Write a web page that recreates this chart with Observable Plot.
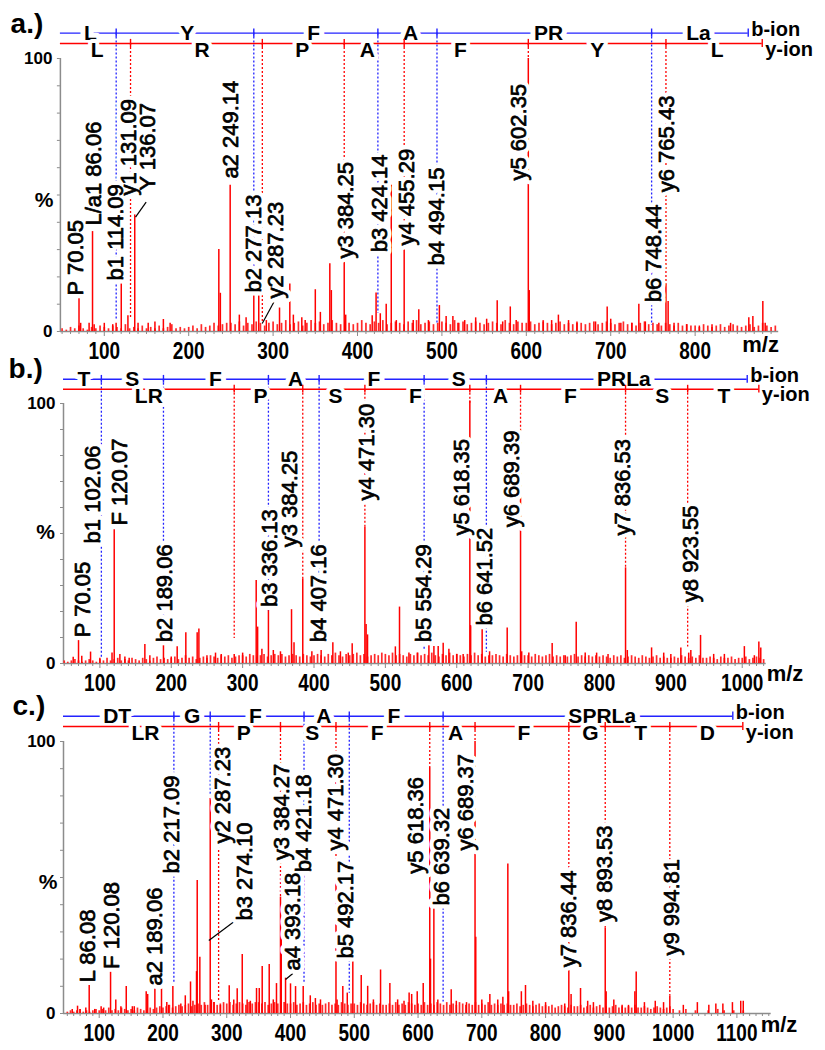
<!DOCTYPE html>
<html><head><meta charset="utf-8">
<script src="https://cdn.jsdelivr.net/npm/d3@7"></script>
<script src="https://cdn.jsdelivr.net/npm/@observablehq/plot@0.6"></script>
<style>
body{margin:0;background:#fff;}
#wrap{position:relative;width:825px;height:1050px;overflow:hidden;}
#wrap svg{position:absolute;left:0;}
</style></head><body><div id="wrap"></div>
<script>
// ---------------- Panel a: LYFAPRLa ----------------
const aPeaks = [[70.05,15.3],[72,3],[82,3],[86.06,36.6],[88,2.5],[100,3],[110,2.5],[114,3],[120.1,18.1],[128,5.8],[136.07,42.7],[140,3],[152,3],[160,3.5],[170,4.4],[178,3],[235.7,30],[237.5,14],[249.14,53.6],[260,6],[268,5],[277.13,14.5],[283,18.1],[292,4],[307.6,8.6],[319.8,17.4],[324,6],[334,5],[338,4],[350,15.3],[356,7],[367.2,24.8],[369,15],[384.25,29.6],[386,6],[417.4,5.8],[422,14.1],[427,6.5],[434,10],[440,53.6],[446,4],[455.29,29.9],[466,4],[472.6,8],[484,4],[497,9.5],[505,5.5],[513,5.5],[519,3],[527,4],[540,5],[553,4.5],[565.5,11.3],[572,3.5],[581,9],[588,4],[602.35,100],[603.5,15],[620,3.5],[630,4],[638,6],[650,4],[660,3],[682,3.5],[695.8,9],[700,4.5],[712,3],[725,3],[733.3,10],[741,3.5],[757,3],[765.43,17],[768,11],[775,3],[790,2.5],[805,2],[820,2.5],[842,3],[863.6,5],[868.4,5.5],[880.2,11],[883,3]];
const aGrassStart = 50, aGrassStep = 5;
const aGrass = [1,0.5,1.5,1,2,1,0.5,1.5,1,2, 1.5,1,2,1.5,1,2.5,1,1.5,1,2, 1,1.5,1,2,1,1.5,2.5,1,1.5,1, 1.5,2,1,2.5,1.5,2,3,2,2.5,3, 3,2.5,3.5,2,3,2.5,3.5,3,2,3, 3.5,2.5,3,4,2.5,3,3.5,2,3,4, 3,3.5,2.5,3,4,3,2.5,3.5,3,2.5, 3,4,3,2.5,3.5,3,4,2.5,3,3.5, 3,2.5,3.5,3,4,2.5,3,3.5,2.5,3, 3.5,3,2.5,4,3,3.5,2.5,3,3.5,3, 2.5,3,3.5,3,2.5,4,3,2.5,3.5,3, 3,3.5,2.5,3,4,3,2.5,3,3.5,2.5, 3,2.5,3.5,3,2.5,3,3.5,2.5,3,3.5, 3,2.5,3,3.5,2.5,3,2,3,3.5,2.5, 3,2.5,2,3,2.5,2,3,2,2.5,2, 2,1.5,2.5,2,1.5,2,2.5,1.5,2,2.5, 2,1.5,2,2.5,1.5,2,3,2,1.5,2];
const aIonMz = [114.09,277.13,424.14,494.15,748.44,131.09,287.23,384.25,455.29,602.35,765.43];
const aIonType = ["b","b","b","b","b","y","y","y","y","y","y"];
const aIonEnd = [4,14.3,6.6,2.9,2.2,5.1,2.9,29.3,29.7,100,16.8];
const aSeqEnd = [862.9,879.5];
const aBLetters = ["L","Y","F","A","PR","La"];
const aBLetterMz = [83.6,198.2,347.9,462.8,626.3,804];
const aYLetters = ["L","R","P","A","F","Y","L"];
const aYLetterMz = [91.6,216,334.5,411.5,522,684,826.2];
const aLabels = ["P 70.05","L/a1 86.06","b1 114.09","y1 131.09","Y 136.07","a2 249.14","b2 277.13","y2 287.23","y3 384.25","b3 424.14","y4 455.29","b4 494.15","y5 602.35","b6 748.44","y6 765.43"];
const aLabelMz = [65.9,87.2,113.3,128.7,151.2,250.4,276.8,302.8,386.6,426,458.9,493.6,591.1,751.1,767];
const aLabelInt = [13.2,38.8,18.7,49.8,51.6,56,14.3,12.1,26.7,29,31.5,24.2,55.3,10.7,51];
const aLeaders = [[149.6,47.4,137,41.9],[300.8,10.7,287.1,2.9]];

// ---------------- Panel b: TSFAFSPRLa ----------------
const bPeaks = [[62.6,2.4],[70.05,8.8],[74.6,2.8],[86.9,4.4],[100,2],[117,4],[120.07,51.4],[128,3.5],[135,2.5],[141,2],[163,7.3],[170,3],[189.06,7.7],[200,2.5],[208.3,6.4],[220.4,11.8],[236.3,11.8],[238.7,13.3],[250,3],[262,4],[270,3.5],[288.2,3.5],[300,4],[319,31.9],[321,14],[327,5.5],[336.13,20.4],[343,5],[353,4.5],[368.5,20.7],[372,8],[384.25,32.6],[397,4.5],[410,5],[426.4,8],[437,4.5],[448,4],[453.5,7.6],[471.3,52.4],[473,15],[475,11],[514,6.4],[519.8,21.7],[533,4],[545,4],[561,7.8],[568,6.5],[574,6.5],[581,7.8],[589,5.5],[600,3.5],[609,3.5],[618.35,101],[619.5,14.6],[635.6,13],[646,4.5],[670.7,13.7],[689.39,85],[691,4.5],[701,4],[733.7,7.7],[752,3],[767.4,15.9],[780,4],[796,4],[812,3.5],[836.53,36.8],[839,5],[873,6],[890,4],[900,3.5],[914,6],[925,4],[928,5],[941.6,10.8],[960,3.5],[975,3.5],[1003,6.5],[1017,3],[1023.3,8.3],[1026,6]];
const bGrassStart = 50, bGrassStep = 5;
const bGrass = [1,0.5,1,1.5,1,0.5,1,1.5,1,0.5, 1.5,1,2,1,1.5,2,1,1.5,1,2, 1.5,1,2,1.5,1,2,2.5,1.5,2,1.5, 2,2.5,1.5,2,3,2,2.5,1.5,2,2.5, 2,3,2.5,2,3,2.5,3,2,2.5,3, 3,2.5,3.5,3,2.5,3,3.5,2.5,3,3.5, 3,3.5,2.5,3,3.5,3,2.5,3.5,3,2.5, 3,3.5,3,2.5,3.5,3,4,3,2.5,3.5, 3,3.5,4,3,3.5,2.5,3,3.5,3,4, 3.5,3,4,3,3.5,3,2.5,3.5,3,4, 3,3.5,3,4,3,2.5,3.5,3,4,3, 3.5,3,2.5,3.5,3,4,3,3.5,2.5,3, 3,3.5,3,2.5,3.5,3,2.5,3,3.5,3, 3,2.5,3.5,3,2.5,3,3.5,2.5,3,2.5, 3,2.5,3,3.5,2.5,3,2.5,3,2.5,3, 2.5,3,2.5,2,3,2.5,3,2,2.5,3, 2.5,2,3,2.5,2,2.5,3,2,2.5,2, 2,2.5,2,3,2.5,2,2.5,2,3,2, 2,2.5,2,1.5,2.5,2,2,2.5,1.5,2, 2,2.5,1.5,2,2.5,2,1.5];
const bIonMz = [102.06,189.06,336.13,407.16,554.29,641.52,288.2,384.25,471.30,618.35,689.39,836.53,923.55];
const bIonType = ["b","b","b","b","b","b","y","y","y","y","y","y","y"];
const bIonEnd = [2.4,7.7,20,6.9,5,4.3,9.6,32.6,52.4,100,85,36.8,6.3];
const bSeqEnd = [1007,1023.3];
const bBLetters = ["T","S","F","A","F","S","PRLa"];
const bBLetterMz = [77.5,145.3,262,374.1,483.8,602.9,834.1];
const bYLetters = ["LR","P","S","F","A","F","S","T"];
const bYLetterMz = [168.6,325.1,430.1,542.2,661.3,759.4,887.9,974.2];
const bLabels = ["P 70.05","b1 102.06","F 120.07","b2 189.06","b3 336.13","y3 384.25","b4 407.16","y4 471.30","b5 554.29","y5 618.35","b6 641.52","y6 689.39","y7 836.53","y8 923.55"];
const bLabelMz = [76.4,90.4,127.5,190.6,337.7,365.7,406.8,474.6,553.9,607.7,638.9,676.8,833,927.6];
const bLabelInt = [10.1,46.2,53.1,8.2,21.7,44.7,8.2,62.7,8.2,49.2,14.6,52.4,49.2,23.6];
const bLeaders = [];

// ---------------- Panel c: DTGFAFSPRLa ----------------
const cPeaks = [[57.7,1.5],[66,2.7],[70,1.5],[79,2],[84.3,11.2],[93,1.5],[103,2.5],[107,2],[117.8,16],[126,5],[134,2.5],[142.4,9.9],[152,2.5],[155,2.5],[173.7,8],[176,7],[187.3,9.1],[197.7,9.1],[206,4],[209,3],[215.5,9.9],[228,3.5],[235,6.5],[243.2,11.6],[247,4.5],[252.6,15.4],[253.7,48.9],[257.8,20.7],[266,3],[274.1,79],[276,5],[280,4],[290,3],[303.9,10.2],[311,5],[316.4,9.1],[324.3,21.7],[332,5],[337,4.5],[346.7,9.2],[351,9.2],[355.6,17.3],[366.6,18],[373,5],[378,11],[384.27,42.8],[385.5,28],[392.2,13],[400,10.9],[407.9,9.9],[419.9,9.9],[431,6.5],[439,5.5],[447,5],[471.3,53.2],[473,5],[482,9.9],[489,7.5],[497.7,20.1],[510.9,14],[521,10],[530,5],[541.2,16],[555.8,11],[568,5],[578,4.5],[586,7.5],[590,7],[598.7,8],[608.1,11],[618.36,90.4],[619.5,20],[624.8,38.5],[631,5],[652,8.7],[660,4.5],[676,4],[689.37,100],[690.5,28],[700,5],[712.6,7],[725,5],[733,6],[740.8,55],[742,8],[762,8],[768.5,10.3],[780,4.5],[800,4],[830,3.5],[836.44,15.6],[840,7],[854.8,9.2],[866,4.5],[875,4],[893.53,31.4],[895,8],[907,5],[920,3],[930,3],[940,8],[942.1,15.3],[955,4],[972,4.5],[985,4],[994.81,6.4],[1016,3],[1038,4],[1056,3],[1067,3.5],[1078,3.5],[1093,4],[1106,4.5],[1110,4.5]];
const cGrassStart = 50, cGrassStep = 5;
const cGrass = [0.5,1,0.5,1,1.5,0.5,1,0.5,1,1.5, 1,1.5,1,2,1,1.5,1,2,1.5,1, 1.5,1,2,1.5,1,1.5,2,1.5,2,2.5, 2,2.5,3,2,2.5,3,2.5,3,3.5,2.5, 3,3.5,3,4,3,3.5,4,3,3.5,4, 3.5,4,3,3.5,4,3.5,3,4,3.5,4, 4,3.5,4,3,3.5,4,3.5,3,4,3.5, 3.5,4,3,3.5,4,3,3.5,4,3,3.5, 3,3.5,4,3,3.5,3,4,3.5,3,3.5, 3.5,3,4,3.5,3,3.5,4,3,3.5,3, 3,3.5,3,4,3,3.5,3,4,3.5,3, 3.5,3,4,3,3.5,3,4,3.5,3,4, 3,3.5,3,4,3.5,3,3.5,3,4,3, 3.5,3,4,3,3.5,3,3.5,3,3.5,3, 3,3.5,2.5,3,3.5,3,2.5,3,3.5,2.5, 3,2.5,3,2,2.5,3,2.5,2,3,2.5, 2.5,3,2,2.5,3,2,2.5,3,2,2.5, 2,2.5,3,2,2.5,2,2.5,2,3,2, 2,2.5,2,1.5,2,2.5,2,1.5,2,2.5, 1.5,0,1,0,1.5,0,0,1,0,0, 0,1,0,0,1.5,0,1,0,0,1, 0,0,1,0,0,0,0,0,0,0];
const cIonMz = [217.09,274.10,421.18,492.17,639.32,287.23,384.27,471.30,618.36,689.37,836.44,893.53,994.81];
const cIonType = ["b","b","b","b","b","y","y","y","y","y","y","y","y"];
const cIonEnd = [11,80,11,7.4,4.2,4.2,42.8,53.2,90.4,100,15.6,31.4,6.4];
const cSeqEnd = [1093.6,1109.3];
const cBLetters = ["DT","G","F","A","F","SPRLa"];
const cBLetterMz = [128.2,245.9,345.1,452.2,562,888.8];
const cYLetters = ["LR","P","S","F","A","F","G","T","D"];
const cYLetterMz = [172.6,326.8,434.1,536,658.8,765.9,870.5,948.9,1053.5];
const cLabels = ["L 86.08","F 120.08","a2 189.06","b2 217.09","y2 287.23","b3 274.10","y3 384.27","b4 421.18","a4 393.18","y4 471.30","b5 492.17","y5 618.36","b6 639.32","y6 689.37","y7 836.44","y8 893.53","y9 994.81"];
const cLabelMz = [82.5,120.4,186.8,214.5,294.2,327.9,387,420.9,404,470.6,486.3,597.3,637.9,674.5,836.4,892.4,998.6];
const cLabelInt = [11.5,16.4,10.3,51.5,62.5,34.2,56.3,51.9,15.8,59.9,20.2,51.4,39.7,59.9,17,33.6,21.3];
const cLeaders = [[313.8,34.2,271.9,26.8],[403.6,14.7,392.2,12.5]];

// ---------------- drawing ----------------
const W = 825;
const RED = "#ff0000", BLUE = "#2323ff", GRAY = "#8c8c8c";
const FONT = "'Liberation Sans', Arial, Helvetica, sans-serif";
const LV = {blue: 109.3, red: 105.5, bLet: 109.4, yLet: 102.9, bIon: 110.6, yIon: 103.4, tick: 1.5};

const panels = [
  {name: "a.)", top: 0, height: 360, xDomain: [48, 899], xRange: [59.9, 778.2], yRange: [331, 58], tickMax: 800,
   title: [-11, 112.8], pct: [28.6, 48], mzLab: [877.5, -5],
   D: {peaks: aPeaks, grass: aGrass, gs: aGrassStart, gstep: aGrassStep, ionMz: aIonMz, ionType: aIonType, ionEnd: aIonEnd, seqEnd: aSeqEnd,
       bLet: aBLetters, bLetMz: aBLetterMz, yLet: aYLetters, yLetMz: aYLetterMz, lab: aLabels, labMz: aLabelMz, labInt: aLabelInt, leads: aLeaders}},
  {name: "b.)", top: 358, height: 332, xDomain: [49, 1033.6], xRange: [63, 765.7], yRange: [305, 45], tickMax: 1000,
   title: [-28, 113.1], pct: [23.8, 50.4], mzLab: [1060, -4],
   D: {peaks: bPeaks, grass: bGrass, gs: bGrassStart, gstep: bGrassStep, ionMz: bIonMz, ionType: bIonType, ionEnd: bIonEnd, seqEnd: bSeqEnd,
       bLet: bBLetters, bLetMz: bBLetterMz, yLet: bYLetters, yLetMz: bYLetterMz, lab: bLabels, labMz: bLabelMz, labInt: bLabelInt, leads: bLeaders}},
  {name: "c.)", top: 690, height: 360, xDomain: [44, 1153.8], xRange: [63, 770.7], yRange: [323, 51], tickMax: 1100,
   title: [-35.9, 112.9], pct: [19.8, 48.2], mzLab: [1166, -4.2],
   D: {peaks: cPeaks, grass: cGrass, gs: cGrassStart, gstep: cGrassStep, ionMz: cIonMz, ionType: cIonType, ionEnd: cIonEnd, seqEnd: cSeqEnd,
       bLet: cBLetters, bLetMz: cBLetterMz, yLet: cYLetters, yLetMz: cYLetterMz, lab: cLabels, labMz: cLabelMz, labInt: cLabelInt, leads: cLeaders}}
];

const wrap = document.getElementById("wrap");

for (const P of panels) {
  const D = P.D;
  const [xmin, xmax] = P.xDomain;
  const peaks = D.peaks.map(([mz, v]) => ({mz, v}));
  const grass = D.grass.map((v, i) => ({mz: D.gs + i * D.gstep, v})).filter(d => d.v > 0 && d.mz <= xmax);
  const ions = D.ionMz.map((mz, i) => ({mz, type: D.ionType[i], end: D.ionEnd[i]}));
  const bI = ions.filter(d => d.type === "b"), yI = ions.filter(d => d.type === "y");
  const labels = D.lab.map((t, i) => ({t, mz: D.labMz[i], v: D.labInt[i]}));
  const leads = D.leads.map(([a, b, c, d]) => ({x1: a, y1: b, x2: c, y2: d}));
  const bLet = D.bLet.map((t, i) => ({t, mz: D.bLetMz[i]}));
  const yLet = D.yLet.map((t, i) => ({t, mz: D.yLetMz[i]}));
  const bTicks = [...bI.map(d => d.mz), D.seqEnd[0]];
  const yTicks = [...yI.map(d => d.mz), D.seqEnd[1]];
  const major = d3.range(100, P.tickMax + 1, 100);
  const minor = d3.range(50, xmax, 10).filter(v => v >= xmin && v % 100 !== 0);
  const labOpts = {x: "mz", y: "v", text: "t", rotate: -90, textAnchor: "start", fontSize: 22};

  const svg = Plot.plot({
    width: W, height: P.height,
    marginLeft: P.xRange[0], marginRight: W - P.xRange[1],
    marginTop: P.yRange[1], marginBottom: P.height - P.yRange[0],
    x: {domain: P.xDomain, range: P.xRange},
    y: {domain: [0, 100], range: P.yRange},
    style: {fontFamily: FONT, background: "transparent", overflow: "visible", color: "black"},
    marks: [
      Plot.axisX({ticks: minor, tickSize: 3, tickFormat: () => "", stroke: GRAY, label: null}),
      Plot.axisX({ticks: major, tickSize: 5, tickPadding: 5, tickFormat: d => String(d), stroke: GRAY, fill: "black", fontSize: 19, fontWeight: "bold", label: null}),
      Plot.axisY({ticks: d3.range(0, 101, 10), tickSize: 3, tickPadding: 5, tickFormat: d => (d === 0 || d === 100) ? String(d) : "",
                  stroke: GRAY, fill: "black", fontSize: 17, fontWeight: "bold", label: null}),
      Plot.ruleY([0], {x1: () => xmin, x2: () => xmax, stroke: GRAY, strokeWidth: 1.5}),
      Plot.ruleX([xmin], {y1: () => 0, y2: () => 100, stroke: GRAY, strokeWidth: 1.5}),
      // spectrum
      Plot.ruleX(grass, {x: "mz", y1: () => 0, y2: "v", stroke: "#ff2a2a", strokeWidth: 1.7}),
      Plot.ruleX(peaks, {x: "mz", y1: () => 0, y2: "v", stroke: RED, strokeWidth: 1.5}),
      // ion guide lines
      Plot.ruleX(bI, {x: "mz", y1: () => LV.blue, y2: "end", stroke: BLUE, strokeWidth: 1.3, strokeDasharray: "2,2"}),
      Plot.ruleX(yI, {x: "mz", y1: () => LV.red, y2: "end", stroke: RED, strokeWidth: 1.3, strokeDasharray: "2,2"}),
      Plot.link(leads, {x1: "x1", y1: "y1", x2: "x2", y2: "y2", stroke: "black", strokeWidth: 1.2}),
      // peak labels: white backing, then text
      Plot.text(labels, {...labOpts, fill: "white", stroke: "white", strokeWidth: 9}),
      Plot.text(labels, {...labOpts, fill: "black", stroke: "black", strokeWidth: 0.7}),
      // b-ion ladder
      Plot.ruleY([LV.blue], {x1: () => xmin, x2: () => D.seqEnd[0], stroke: BLUE, strokeWidth: 1.4}),
      Plot.ruleX(bTicks, {x: d => d, y1: () => LV.blue - LV.tick, y2: () => LV.blue + LV.tick, stroke: BLUE, strokeWidth: 1.4}),
      Plot.text(bLet, {x: "mz", y: () => LV.bLet, text: "t", fontSize: 21, fontWeight: "bold", fill: "black", stroke: "white", strokeWidth: 10}),
      Plot.text(["b-ion"], {x: () => D.seqEnd[0], y: () => LV.bIon, text: d => d, textAnchor: "start", dx: 3, fontSize: 20, fontWeight: "bold", fill: "black"}),
      // y-ion ladder
      Plot.ruleY([LV.red], {x1: () => xmin, x2: () => D.seqEnd[1], stroke: RED, strokeWidth: 1.4}),
      Plot.ruleX(yTicks, {x: d => d, y1: () => LV.red - LV.tick, y2: () => LV.red + LV.tick, stroke: RED, strokeWidth: 1.4}),
      Plot.text(yLet, {x: "mz", y: () => LV.yLet, text: "t", fontSize: 21, fontWeight: "bold", fill: "black", stroke: "white", strokeWidth: 8}),
      Plot.text(["y-ion"], {x: () => D.seqEnd[1], y: () => LV.yIon, text: d => d, textAnchor: "start", dx: 3, fontSize: 20, fontWeight: "bold", fill: "black"}),
      // panel annotations
      Plot.text([P.name], {x: () => P.title[0], y: () => P.title[1], text: d => d, textAnchor: "start", fontSize: 28, fontWeight: "bold", fill: "black"}),
      Plot.text(["%"], {x: () => P.pct[0], y: () => P.pct[1], text: d => d, fontSize: 21, fontWeight: "bold", fill: "black"}),
      Plot.text(["m/z"], {x: () => P.mzLab[0], y: () => P.mzLab[1], text: d => d, fontSize: 22, fontWeight: "bold", fill: "black"})
    ]
  });
  svg.style.top = P.top + "px";
  svg.querySelectorAll('g[aria-label="x-axis tick label"] text').forEach(t => {
    const tr = t.getAttribute("transform");
    if (tr) t.setAttribute("transform", tr + " scale(1,1.3)");
  });
  wrap.appendChild(svg);
}
</script></body></html>
